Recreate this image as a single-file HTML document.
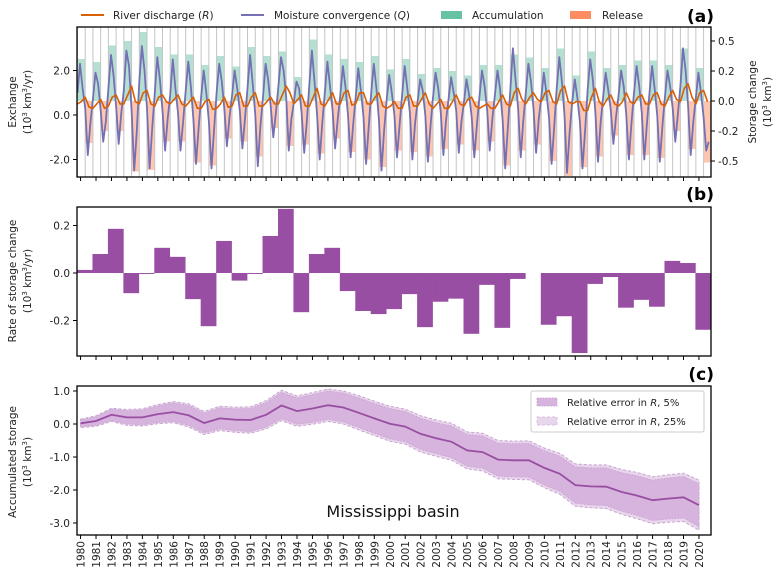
<!DOCTYPE html>
<html><head><meta charset="utf-8">
<style>
html,body{margin:0;padding:0;background:#fff;}
svg{display:block;font-family:"DejaVu Sans","Liberation Sans",sans-serif;}
</style></head>
<body>
<svg id="chart" width="781" height="582" viewBox="0 0 781 582" xmlns="http://www.w3.org/2000/svg">
  <g id="legendA" font-size="10.5" fill="#222">
    <line x1="81" y1="15" x2="104" y2="15" stroke="#d95f02" stroke-width="2"/>
    <text x="113" y="19">River discharge (<tspan font-style="italic">R</tspan>)</text>
    <line x1="241" y1="15" x2="264" y2="15" stroke="#7570b3" stroke-width="2"/>
    <text x="274" y="19">Moisture convergence (<tspan font-style="italic">Q</tspan>)</text>
    <rect x="441" y="11" width="21" height="8" fill="#66c2a5"/>
    <text x="472" y="19">Accumulation</text>
    <rect x="570" y="11" width="21" height="8" fill="#fc8d62"/>
    <text x="602" y="19">Release</text>
  </g>
  <text x="714" y="22" text-anchor="end" font-size="17" font-weight="bold">(a)</text>
  <text x="714" y="200" text-anchor="end" font-size="17" font-weight="bold">(b)</text>
  <text x="714" y="380" text-anchor="end" font-size="17" font-weight="bold">(c)</text>

  <g font-size="10.5" fill="#222" text-anchor="middle">
    <text transform="translate(16,102) rotate(-90)">Exchange</text>
    <text transform="translate(31,102) rotate(-90)">(10<tspan baseline-shift="super" font-size="7">3</tspan> km<tspan baseline-shift="super" font-size="7">3</tspan>/yr)</text>
    <text transform="translate(756,102) rotate(-90)">Storage change</text>
    <text transform="translate(771,102) rotate(-90)">(10<tspan baseline-shift="super" font-size="7">3</tspan> km<tspan baseline-shift="super" font-size="7">3</tspan>)</text>
    <text transform="translate(16,281) rotate(-90)">Rate of storage change</text>
    <text transform="translate(31,281) rotate(-90)">(10<tspan baseline-shift="super" font-size="7">3</tspan> km<tspan baseline-shift="super" font-size="7">3</tspan>/yr)</text>
    <text transform="translate(16,462) rotate(-90)">Accumulated storage</text>
    <text transform="translate(31,462) rotate(-90)">(10<tspan baseline-shift="super" font-size="7">3</tspan> km<tspan baseline-shift="super" font-size="7">3</tspan>)</text>
  </g>
  <g id="plot"></g>
</svg>
<script>
// ---------- data ----------
const years = [1980,1981,1982,1983,1984,1985,1986,1987,1988,1989,1990,1991,1992,1993,1994,1995,1996,1997,1998,1999,2000,2001,2002,2003,2004,2005,2006,2007,2008,2009,2010,2011,2012,2013,2014,2015,2016,2017,2018,2019,2020];
const accumulation = [0.28,0.26,0.37,0.40,0.46,0.36,0.31,0.31,0.24,0.30,0.23,0.36,0.30,0.33,0.16,0.41,0.31,0.28,0.26,0.30,0.21,0.28,0.18,0.22,0.20,0.17,0.24,0.24,0.31,0.29,0.22,0.35,0.17,0.33,0.22,0.24,0.27,0.27,0.24,0.35,0.22];
const release = [-0.28,-0.20,-0.20,-0.47,-0.46,-0.27,-0.27,-0.41,-0.43,-0.25,-0.27,-0.37,-0.18,-0.30,-0.29,-0.35,-0.25,-0.34,-0.39,-0.44,-0.33,-0.34,-0.37,-0.32,-0.29,-0.33,-0.27,-0.43,-0.33,-0.29,-0.40,-0.50,-0.44,-0.37,-0.23,-0.36,-0.36,-0.38,-0.20,-0.32,-0.41];
const moistureQ = [
1.0,2.3,1.2,0.3,-1.8,-0.4, 0.7,1.9,1.4,0.2,-1.2,-0.3, 1.2,2.7,1.8,0.4,-1.3,0.1, 1.1,2.9,2.2,0.2,-2.5,-0.8,
1.5,3.1,2.0,0.3,-2.4,-0.6, 1.0,2.6,1.6,0.2,-1.6,-0.2, 0.9,2.5,1.2,0.1,-1.6,-0.3, 1.1,2.4,1.3,-0.2,-2.2,-0.6,
0.8,2.0,1.0,-0.3,-2.4,-0.7, 1.0,2.3,1.5,0.3,-1.4,-0.1, 0.9,2.0,1.2,0.2,-1.5,-0.2, 1.2,2.7,1.4,0.0,-2.3,-0.5,
0.8,2.3,1.6,0.4,-1.0,0.1, 1.3,2.6,2.0,0.8,-1.6,-0.2, 0.6,1.5,1.2,0.1,-1.7,-0.3, 1.4,2.9,1.5,0.0,-2.0,-0.4,
1.0,2.4,1.3,0.2,-1.5,-0.2, 0.9,2.2,1.3,0.0,-1.9,-0.4, 0.8,2.1,1.1,-0.1,-2.2,-0.6, 1.0,2.3,1.2,-0.2,-2.5,-0.7,
0.7,1.8,1.0,0.0,-1.9,-0.5, 0.9,2.2,1.2,0.1,-2.0,-0.4, 0.6,1.6,1.1,0.0,-2.1,-0.5, 0.8,1.9,1.2,0.1,-1.8,-0.3,
0.7,1.7,1.0,0.2,-1.7,-0.3, 0.6,1.6,0.9,-0.1,-1.9,-0.5, 0.8,2.0,1.3,0.2,-1.6,-0.2, 0.9,2.0,1.2,-0.2,-2.4,-0.6,
1.1,3.0,1.6,0.3,-1.9,-0.3, 1.0,2.3,1.5,0.3,-1.7,-0.2, 0.8,1.9,1.0,-0.1,-2.2,-0.6, 1.2,2.6,1.5,0.0,-2.6,-0.8,
0.6,1.6,0.8,-0.3,-2.4,-0.7, 1.1,2.5,1.6,0.1,-2.1,-0.4, 0.8,1.9,1.1,0.2,-1.3,-0.1, 0.9,2.0,1.3,0.0,-2.0,-0.4,
1.0,2.2,1.3,0.1,-2.0,-0.4, 1.0,2.2,1.2,0.0,-2.1,-0.5, 0.8,2.0,1.3,0.3,-1.2,0.0, 1.3,3.0,2.0,0.4,-1.8,-0.3,
0.8,1.9,1.0,-0.1,-1.6,-1.2];
const riverR = [
0.5,0.6,0.8,0.35, 0.3,0.5,0.7,0.3, 0.4,0.8,0.9,0.5, 0.5,0.9,1.3,0.6, 0.5,1.0,1.1,0.5, 0.4,0.8,0.9,0.6,
0.5,0.7,0.9,0.5, 0.4,0.6,0.8,0.3, 0.3,0.6,0.7,0.25, 0.3,0.5,0.8,0.35, 0.4,0.9,1.0,0.4, 0.4,0.8,1.0,0.4,
0.4,0.6,0.8,0.5, 0.5,0.9,1.3,1.0, 0.5,0.7,0.9,0.4, 0.4,0.8,1.2,0.5, 0.4,0.7,1.0,0.5, 0.5,1.0,1.1,0.45,
0.5,1.0,1.0,0.5, 0.5,0.8,1.0,0.4, 0.3,0.4,0.6,0.3, 0.3,0.8,0.9,0.4, 0.4,0.7,1.0,0.5, 0.3,0.5,0.7,0.3,
0.3,0.6,0.9,0.5, 0.4,0.7,0.8,0.4, 0.3,0.4,0.5,0.3, 0.3,0.6,0.9,0.5, 0.4,1.0,1.2,0.7, 0.5,0.8,1.0,0.7,
0.6,1.0,1.1,0.6, 0.5,1.1,1.3,0.6, 0.5,0.6,0.6,0.2, 0.2,0.8,1.2,0.6, 0.4,0.7,0.9,0.5, 0.4,0.6,1.0,0.6,
0.5,0.8,0.9,0.5, 0.5,0.9,1.0,0.5, 0.4,0.8,1.1,0.7, 0.6,1.2,1.4,0.8, 0.5,1.0,1.1,0.6];
const storageRate = [0.013,0.08,0.186,-0.085,-0.004,0.106,0.068,-0.11,-0.224,0.135,-0.032,-0.004,0.156,0.27,-0.165,0.08,0.106,-0.076,-0.16,-0.173,-0.152,-0.089,-0.228,-0.121,-0.108,-0.256,-0.05,-0.231,-0.025,0.0,-0.218,-0.182,-0.337,-0.046,-0.017,-0.146,-0.113,-0.142,0.051,0.042,-0.239];
const accumulated = [0.02,0.09,0.28,0.2,0.2,0.3,0.36,0.26,0.03,0.17,0.13,0.12,0.28,0.56,0.39,0.47,0.57,0.5,0.34,0.17,0.01,-0.08,-0.3,-0.43,-0.54,-0.8,-0.85,-1.08,-1.1,-1.1,-1.33,-1.51,-1.85,-1.89,-1.9,-2.06,-2.17,-2.31,-2.26,-2.22,-2.46];
const err5 = [0.1,0.13,0.17,0.2,0.22,0.25,0.28,0.3,0.3,0.32,0.33,0.35,0.37,0.4,0.4,0.42,0.43,0.44,0.45,0.45,0.46,0.46,0.47,0.47,0.48,0.48,0.49,0.5,0.5,0.51,0.52,0.53,0.55,0.56,0.57,0.58,0.6,0.61,0.62,0.63,0.65];
const err25 = [0.13,0.16,0.2,0.24,0.26,0.29,0.32,0.35,0.35,0.37,0.38,0.4,0.43,0.46,0.46,0.48,0.49,0.5,0.52,0.52,0.53,0.53,0.55,0.55,0.56,0.56,0.57,0.58,0.58,0.59,0.6,0.62,0.64,0.65,0.66,0.68,0.7,0.71,0.72,0.73,0.76];
const ticksLeftA = [2.0,0.0,-2.0];
const ticksLeftALabels = ["2.0","0.0","-2.0"];
const ticksRightA = [0.4,0.2,0.0,-0.2,-0.4];
const ticksRightALabels = ["0.5","0.2","0.0","-0.2","-0.5"];
const ticksB = [0.2,0.0,-0.2];
const ticksBLabels = ["0.2","0.0","-0.2"];
const ticksC = [1,0,-1,-2,-3];
const ticksCLabels = ["1.0","0.0","-1.0","-2.0","-3.0"];

// ---------- scales ----------
const L=77, R=711;
const x = t => L + (t - 1979.77) * 15.46;
const yA = v => 115 - v * 22.25;
const yAR = v => 101 - v * 150;
const yB = v => 273 - v * 237.5;
const yC = v => 424 - v * 33;
const NS='http://www.w3.org/2000/svg';
const plot=document.getElementById('plot');
function mk(tag, attrs, parent){const e=document.createElementNS(NS,tag);for(const k in attrs)e.setAttribute(k,attrs[k]);(parent||plot).appendChild(e);return e;}

// clip paths
const defs=mk('defs',{});
[['clipA',27,150],['clipB',207,149],['clipC',386,149]].forEach(c=>{const cp=mk('clipPath',{id:c[0]},defs);mk('rect',{x:L,y:c[1],width:R-L,height:c[2]},cp);});

// ---------- panel a ----------
const gA=mk('g',{'clip-path':'url(#clipA)'});


years.forEach((yr,i)=>{
  const a=mk('rect',{x:x(yr-0.2),y:yAR(accumulation[i]),width:x(yr+0.3)-x(yr-0.2),height:yAR(0)-yAR(accumulation[i]),fill:'#b3e0d2'},gA);
  
  
  const r=mk('rect',{x:x(yr+0.3),y:yAR(0),width:x(yr+0.8)-x(yr+0.3),height:yAR(release[i])-yAR(0),fill:'#fdc6b0'},gA);
  
  
});
years.forEach(yr=>{
  [yr-0.2,yr+0.3].forEach(t=>{
    const l=mk('line',{x1:x(t),x2:x(t),y1:27,y2:177,stroke:'#c4c4c4','stroke-width':1},gA);
    
    
  });
});
let qp='';
moistureQ.forEach((v,i)=>{const t=years[0]-0.2+i/6;qp+=(i?'L':'M')+x(t).toFixed(1)+','+yA(v).toFixed(1);});
const qL=mk('path',{d:qp,fill:'none',stroke:'#7570b3','stroke-width':1.8,'stroke-linejoin':'round'},gA);


let rp='';
riverR.forEach((v,i)=>{const t=years[0]-0.2+i/4;rp+=(i?'L':'M')+x(t).toFixed(1)+','+yA(v).toFixed(1);});
const rL=mk('path',{d:rp,fill:'none',stroke:'#d95f02','stroke-width':1.6,'stroke-linejoin':'round'},gA);



// ---------- panel b ----------
years.forEach((yr,i)=>{
  const v=storageRate[i];
  const b=mk('rect',{x:x(yr-0.23),y:Math.min(yB(v),yB(0)),width:x(yr+0.77)-x(yr-0.23)+0.3,height:Math.abs(yB(v)-yB(0)),fill:'#984ea3'});
  
  
});

// ---------- panel c ----------
function band(err,fill,dash,name){
  let top='',bot='';
  years.forEach((yr,i)=>{top+=(i?'L':'M')+x(yr).toFixed(1)+','+yC(accumulated[i]+err[i]).toFixed(1);});
  for(let i=years.length-1;i>=0;i--){bot+='L'+x(years[i]).toFixed(1)+','+yC(accumulated[i]-err[i]).toFixed(1);}
  const p=mk('path',{d:top+bot+'Z',fill:fill,stroke:'#c9a3d1','stroke-width':1,'stroke-dasharray':dash});
  
  
}
band(err25,'#e8d6ec','3,2','error-band-25pct');
band(err5,'#d6b4dd','1.5,1.5','error-band-5pct');
let cp='';
years.forEach((yr,i)=>{cp+=(i?'L':'M')+x(yr).toFixed(1)+','+yC(accumulated[i]).toFixed(1);});
const cl=mk('path',{d:cp,fill:'none',stroke:'#984ea3','stroke-width':1.8});



// ---------- axes ----------
function frame(top,bot,name){
  const f=mk('rect',{x:L,y:top,width:R-L,height:bot-top,fill:'none',stroke:'#000','stroke-width':1.3});
  
  
  years.forEach(yr=>{
    const t=mk('line',{x1:x(yr),x2:x(yr),y1:bot,y2:bot+4,stroke:'#000','stroke-width':1});
    
    
  });
}
frame(27,177,'panel-a-frame');frame(207,356,'panel-b-frame');frame(386,535,'panel-c-frame');
function yticks(vals,labels,sc,side){
  vals.forEach((v,i)=>{
    const yy=sc(v);
    const xx=side==='left'?L:R;
    const t=mk('line',{x1:xx,x2:side==='left'?xx-4:xx+4,y1:yy,y2:yy,stroke:'#000','stroke-width':1});
    
    
    const tx=mk('text',{x:side==='left'?L-7:R+7,y:yy+4,'font-size':10.5,fill:'#222','text-anchor':side==='left'?'end':'start'});
    tx.textContent=labels[i];
    
    
  });
}
yticks(ticksLeftA,ticksLeftALabels,yA,'left');
yticks(ticksRightA,ticksRightALabels,yAR,'right');
yticks(ticksB,ticksBLabels,yB,'left');
yticks(ticksC,ticksCLabels,yC,'left');
years.forEach(yr=>{
  const tx=mk('text',{x:0,y:0,'font-size':10.5,fill:'#222','text-anchor':'end',transform:'translate('+(x(yr)+4)+',541) rotate(-90)'});
  tx.textContent=String(yr);
  
  
});

// legend c
const lg=mk('g',{});


mk('rect',{x:531,y:391,width:173,height:41,fill:'#fff',stroke:'#ccc','stroke-width':1,rx:2},lg);
const p1=mk('rect',{x:537,y:398,width:20,height:8,fill:'#d6b4dd',stroke:'#c9a3d1','stroke-dasharray':'1.5,1.5'},lg);


const t1=mk('text',{x:567,y:406,'font-size':10,fill:'#222'},lg);
t1.innerHTML='Relative error in <tspan font-style="italic">R</tspan>, 5%';


const p2=mk('rect',{x:537,y:417,width:20,height:8,fill:'#e8d6ec',stroke:'#d9bfe0','stroke-dasharray':'3,2'},lg);


const t2=mk('text',{x:567,y:425,'font-size':10,fill:'#222'},lg);
t2.innerHTML='Relative error in <tspan font-style="italic">R</tspan>, 25%';


const bt=mk('text',{x:393,y:517,'font-size':16,fill:'#111','text-anchor':'middle'});
bt.textContent='Mississippi basin';


</script>
</body></html>
